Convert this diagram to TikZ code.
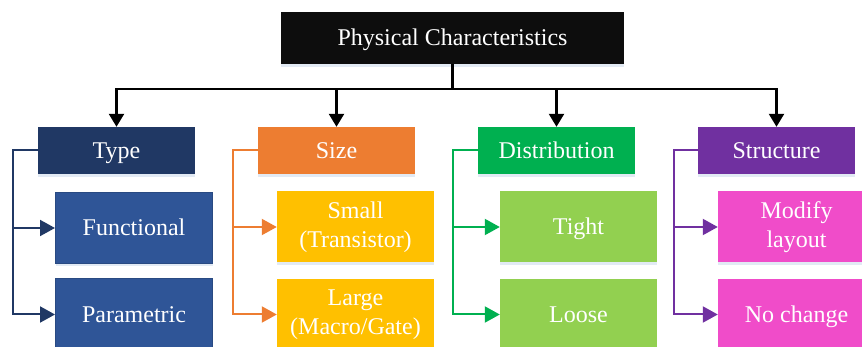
\documentclass[tikz,border=0pt]{standalone}
\usepackage{fontspec}
\setmainfont{Liberation Serif}
\usetikzlibrary{arrows.meta,shadows}

\definecolor{topblack}{HTML}{0D0D0D}
\definecolor{typecol}{HTML}{203864}
\definecolor{typekid}{HTML}{2F5597}
\definecolor{typeedge}{HTML}{294A82}
\definecolor{sizecol}{HTML}{ED7D31}
\definecolor{sizekid}{HTML}{FFC000}
\definecolor{distcol}{HTML}{00B050}
\definecolor{distkid}{HTML}{92D050}
\definecolor{structcol}{HTML}{7030A0}
\definecolor{structkid}{HTML}{F04CC9}
\definecolor{shadowcol}{HTML}{D5E1F0}

\tikzset{
  box/.style={rectangle, inner sep=0pt, text=white, align=center,
    font=\fontsize{24}{29}\selectfont,
    drop shadow={shadow xshift=0pt, shadow yshift=-3pt, fill=shadowcol, opacity=0.7}},
  oneline/.style={text height=16pt, text depth=0pt},
  headbox/.style={box, oneline, minimum width=157pt, minimum height=47pt},
  kidbox/.style={box, minimum width=157pt, minimum height=71pt},
  mainline/.style={draw=black, line width=2.4pt,
    -{Triangle[length=13pt,width=15pt]}},
  branch/.style={draw=#1, line width=2pt,
    -{Triangle[length=15pt,width=16pt,#1]}},
}

\begin{document}
\begin{tikzpicture}[x=1pt,y=-1pt]
\useasboundingbox (0,0) rectangle (862,347);

% root
\node[box, oneline, fill=topblack, minimum width=343pt, minimum height=52pt]
  (root) at (452.5,38) {Physical Characteristics};

% category heads
\node[headbox, fill=typecol]   (type)   at (116.5,150.5) {Type};
\node[headbox, fill=sizecol]   (size)   at (336.5,150.5) {Size};
\node[headbox, fill=distcol]   (dist)   at (556.5,150.5) {Distribution};
\node[headbox, fill=structcol] (struct) at (776.5,150.5) {Structure};

% leaves
\node[kidbox, oneline, fill=typekid, draw=typeedge, line width=1pt] (func)  at (134,228) {Functional};
\node[kidbox, oneline, fill=typekid, draw=typeedge, line width=1pt] (param) at (134,314.5) {Parametric};
\node[kidbox, fill=sizekid] (small) at (355.5,227) {Small\\(Transistor)};
\node[kidbox, fill=sizekid] (large) at (355.5,314.5) {Large\\(Macro/Gate)};
\node[kidbox, oneline, fill=distkid] (tight) at (578.5,227) {Tight};
\node[kidbox, oneline, fill=distkid] (loose) at (578.5,314.5) {Loose};
\node[kidbox, fill=structkid] (modify)   at (796.5,227) {Modify\\layout};
\node[kidbox, oneline, fill=structkid] (nochange) at (796.5,314.5) {No change};

% root to heads
\foreach \h in {type,size,dist,struct}
  \draw[mainline] (root.south) -- ++(0,25) -| (\h.north);

% heads to leaves
\draw[branch=typecol] (type.west) -- ++(-25,0) |- (func.west);
\draw[branch=typecol] (type.west) -- ++(-25,0) |- (param.west);
\draw[branch=sizecol] (size.west) -- ++(-25,0) |- (small.west);
\draw[branch=sizecol] (size.west) -- ++(-25,0) |- (large.west);
\draw[branch=distcol] (dist.west) -- ++(-25,0) |- (tight.west);
\draw[branch=distcol] (dist.west) -- ++(-25,0) |- (loose.west);
\draw[branch=structcol] (struct.west) -- ++(-24,0) |- (modify.west);
\draw[branch=structcol] (struct.west) -- ++(-24,0) |- (nochange.west);
\end{tikzpicture}
\end{document}
